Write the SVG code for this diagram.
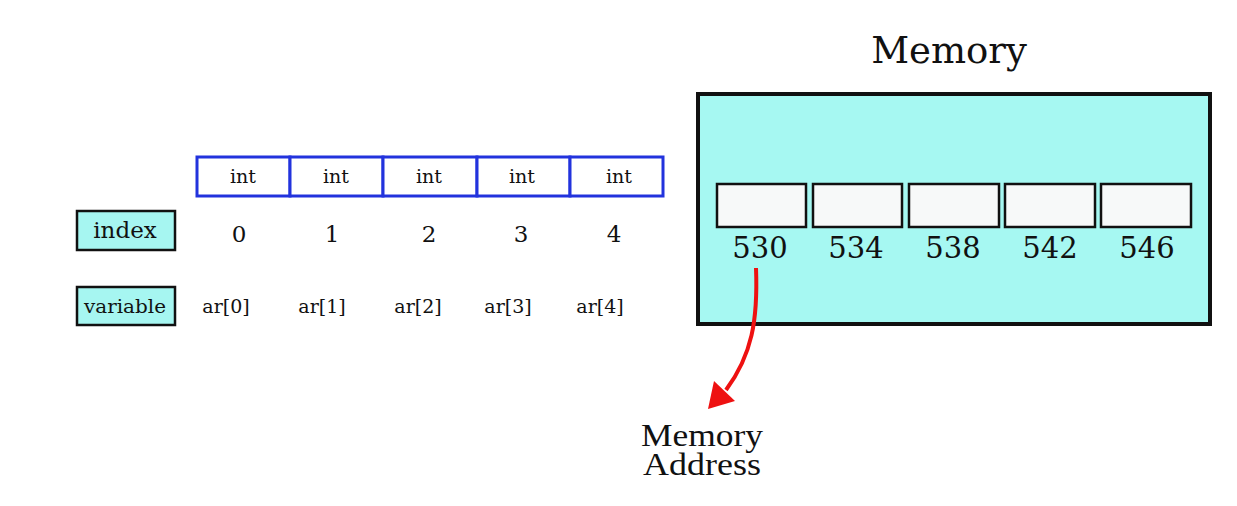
<svg xmlns="http://www.w3.org/2000/svg" width="1237" height="506" viewBox="0 0 1237 506">
<style>
.serif{font-family:"DejaVu Serif","Liberation Serif",serif;fill:#111;text-anchor:middle}
.cell{fill:#fff;stroke:#2233dd;stroke-width:3}
.lbl{fill:#a6f6f1;stroke:#111;stroke-width:2.5}
.mcell{fill:#f7f9f9;stroke:#111;stroke-width:2.5}
.int{font-size:19px}
.idx{font-size:23px}
.num{font-size:23px}
.var{font-size:19px}
.addr{font-size:29px}
.ma{font-family:"Liberation Serif",serif;font-size:31px;fill:#111;text-anchor:middle}
</style>
<rect width="1237" height="506" fill="#fff"/>
<g id="array">
<rect class="cell" x="197" y="157" width="93" height="39"/>
<rect class="cell" x="290" y="157" width="93" height="39"/>
<rect class="cell" x="383" y="157" width="94" height="39"/>
<rect class="cell" x="477" y="157" width="93" height="39"/>
<rect class="cell" x="570" y="157" width="93" height="39"/>
<text class="serif int" x="243" y="183">int</text>
<text class="serif int" x="336" y="183">int</text>
<text class="serif int" x="429" y="183">int</text>
<text class="serif int" x="522" y="183">int</text>
<text class="serif int" x="619" y="183">int</text>
</g>
<g id="index">
<rect class="lbl" x="77" y="211" width="98" height="39"/>
<text class="serif idx" x="125" y="238">index</text>
</g>
<g id="indices">
<text class="serif num" x="239" y="242">0</text>
<text class="serif num" x="332" y="242">1</text>
<text class="serif num" x="429" y="242">2</text>
<text class="serif num" x="521" y="242">3</text>
<text class="serif num" x="614" y="242">4</text>
</g>
<g id="variable">
<rect class="lbl" x="77" y="287" width="98" height="38"/>
<text class="serif var" x="125" y="313" textLength="82" lengthAdjust="spacingAndGlyphs">variable</text>
</g>
<g id="variables">
<text class="serif var" x="226" y="313">ar[0]</text>
<text class="serif var" x="322" y="313">ar[1]</text>
<text class="serif var" x="418" y="313">ar[2]</text>
<text class="serif var" x="508" y="313">ar[3]</text>
<text class="serif var" x="600" y="313">ar[4]</text>
</g>
<g id="memory">
<text class="serif" x="949" y="63" font-size="37">Memory</text>
<rect x="698" y="94" width="512" height="230" fill="#a6f8f2" stroke="#111" stroke-width="4"/>
<rect class="mcell" x="717" y="184" width="89" height="43"/>
<rect class="mcell" x="813" y="184" width="89" height="43"/>
<rect class="mcell" x="909" y="184" width="90" height="43"/>
<rect class="mcell" x="1005" y="184" width="90" height="43"/>
<rect class="mcell" x="1101" y="184" width="90" height="43"/>
<text class="serif addr" x="760" y="258">530</text>
<text class="serif addr" x="856" y="258">534</text>
<text class="serif addr" x="953" y="258">538</text>
<text class="serif addr" x="1050" y="258">542</text>
<text class="serif addr" x="1147" y="258">546</text>
</g>
<g id="connectors">
<path d="M756,268 C758,320 752,355 726,390" fill="none" stroke="#ee1111" stroke-width="4"/>
<path d="M708,409 L714,381 L735,401 Z" fill="#ee1111"/>
</g>
<g id="memory-address">
<text class="ma" x="702" y="446" textLength="122" lengthAdjust="spacingAndGlyphs">Memory</text>
<text class="ma" x="702" y="475" textLength="118" lengthAdjust="spacingAndGlyphs">Address</text>
</g>
</svg>
